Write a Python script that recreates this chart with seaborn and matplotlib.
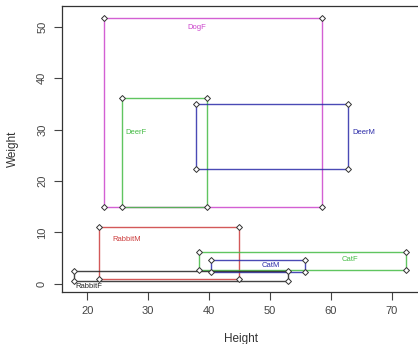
import numpy as np
import pandas as pd
import matplotlib
matplotlib.use("Agg")
import matplotlib.pyplot as plt
import seaborn as sns

# ranges of Height (x) and Weight (y) per group
groups = ['DogF', 'DeerF', 'DeerM', 'RabbitM', 'CatF', 'CatM', 'RabbitF']
h_min = [22.7, 25.7, 37.9, 21.9, 38.4, 40.3, 17.9]
h_max = [58.5, 39.6, 62.9, 45.0, 72.4, 55.8, 53.0]
w_min = [15.0, 15.0, 22.3, 0.9, 2.6, 2.2, 0.45]
w_max = [51.8, 36.2, 35.0, 11.0, 6.15, 4.66, 2.5]
colors = ['#cc44cc', '#44bb44', '#2a2aa8', '#cc3c3c', '#44bb44', '#2a2aa8', '#222222']
# where the group names are written
lab_x = [38.0, 28.0, 65.4, 26.5, 63.1, 50.1, 20.3]
lab_y = [49.9, 29.4, 29.5, 8.6, 4.8, 3.5, -0.5]

rows = []
for g, a, b, c, d in zip(groups, h_min, h_max, w_min, w_max):
    for i, (x, y) in enumerate([(a, c), (b, c), (b, d), (a, d), (a, c)]):
        rows.append({'group': g, 'order': i, 'Height': x, 'Weight': y})
df = pd.DataFrame(rows)

sns.set_style("ticks")
plt.rcParams['font.family'] = ['Liberation Sans', 'DejaVu Sans']

fig = plt.figure(figsize=(4.18, 3.44), dpi=100)
ax = fig.add_axes([0.1476, 0.152, 0.858, 0.8305])

pal = dict(zip(groups, colors))
sns.lineplot(data=df, x='Height', y='Weight', hue='group', units='group',
             estimator=None, sort=False, palette=pal, lw=1.0, alpha=0.85,
             legend=False, ax=ax)
corners = df[df['order'] < 4]
sns.scatterplot(data=corners, x='Height', y='Weight', marker='D', s=9,
                facecolor='white', edgecolor='#333333', linewidth=0.7,
                legend=False, ax=ax, zorder=5)

for g, x, y, c in zip(groups, lab_x, lab_y, colors):
    ax.text(x, y, g, color=c, fontsize=5.5, ha='center', va='center')

ax.set_xlim(15.8, 74.7)
ax.set_ylim(-1.56, 54.06)
ax.set_xticks([20, 30, 40, 50, 60, 70])
ax.set_yticks([0, 10, 20, 30, 40, 50])
ax.set_yticklabels([0, 10, 20, 30, 40, 50], rotation=90, va='center')
ax.tick_params(labelsize=8, length=5.5, width=0.8, colors='#444444', pad=5)
for s in ax.spines.values():
    s.set_visible(True)
    s.set_color('#333333')
    s.set_linewidth(0.9)
ax.spines['right'].set_visible(False)
ax.set_xlabel('Height', fontsize=8.5, color='#333333', labelpad=12)
ax.set_ylabel('Weight', fontsize=8.5, color='#333333', labelpad=13)

fig.savefig('out.png', dpi=100)
